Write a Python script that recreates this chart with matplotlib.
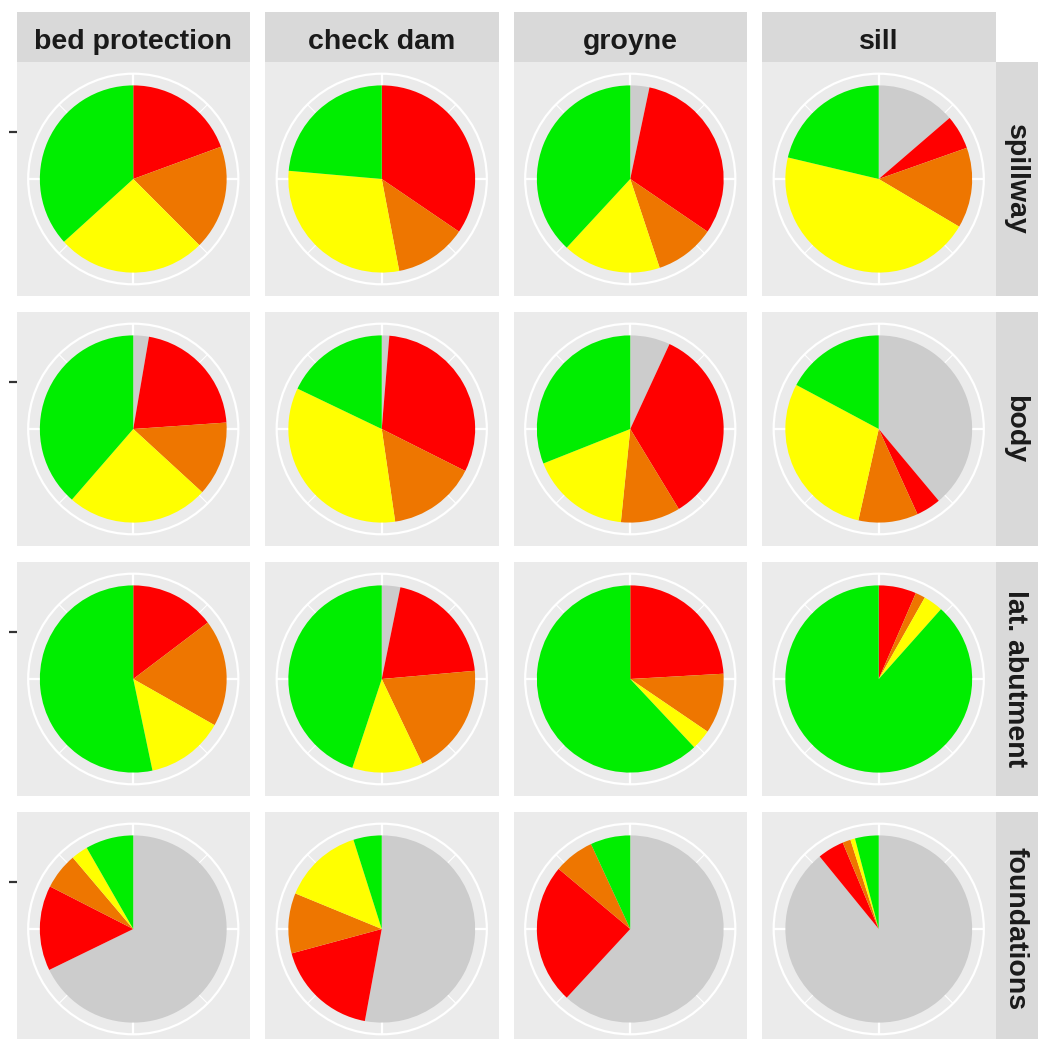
import matplotlib
matplotlib.use("Agg")
import matplotlib.pyplot as plt
import numpy as np
from matplotlib.patches import Circle

# Facet labels
structures = ["bed protection", "check dam", "groyne", "sill"]
components = ["spillway", "body", "lat. abutment", "foundations"]

# Share (%) per damage class, in stacking order:
# not assessed, severe, moderate, slight, none
class_colors = ["#CCCCCC", "#FF0000", "#EE7600", "#FFFF00", "#00EE00"]

spillway = [
    [0.0, 19.4, 18.1, 25.8, 36.7],
    [0.0, 34.5, 12.5, 29.4, 23.6],
    [3.3, 31.2, 10.4, 17.0, 38.1],
    [13.7, 5.9, 13.9, 45.2, 21.3],
]
body = [
    [2.7, 21.2, 12.9, 24.6, 38.6],
    [1.3, 31.1, 15.3, 34.4, 17.9],
    [6.9, 34.4, 10.3, 17.4, 31.0],
    [38.9, 4.3, 10.3, 29.3, 17.2],
]
lat_abutment = [
    [0.0, 14.7, 18.5, 13.5, 53.3],
    [3.2, 20.4, 19.3, 12.2, 44.9],
    [0.0, 24.1, 10.4, 3.5, 62.0],
    [0.0, 6.5, 1.7, 3.4, 88.4],
]
foundations = [
    [67.8, 14.7, 6.3, 2.9, 8.3],
    [52.9, 17.9, 10.4, 13.9, 4.9],
    [61.9, 24.2, 7.0, 0.0, 6.9],
    [89.1, 4.6, 1.4, 0.8, 4.1],
]
shares = [spillway, body, lat_abutment, foundations]

# ---- figure layout (pixel based) ----
W, H, DPI = 1038, 1039, 100
fig = plt.figure(figsize=(W / DPI, H / DPI), dpi=DPI, facecolor="white")


def box(left, top, w, h):
    return [left / W, 1 - (top + h) / H, w / W, h / H]


col_left = [16.5, 265.0, 513.5, 762.0]
panel_w = 233.5
row_top = [62.0, 312.0, 562.0, 812.0]
panel_h = 234.0
strip_size = 50.0
strip_top = 12.0
strip_right = col_left[-1] + panel_w

panel_bg = "#EBEBEB"
strip_bg = "#D9D9D9"
text_col = "#1A1A1A"
font = dict(family="Liberation Sans", weight="bold", size=20.5, color=text_col)

R_PIE = 0.4
R_RING = 0.45

for r, comp in enumerate(components):
    for c, struct in enumerate(structures):
        ax = fig.add_axes(box(col_left[c], row_top[r], panel_w, panel_h))

        # polar grid: spokes every 12.5 %, outer ring
        for k, frac in enumerate(np.arange(0, 1, 0.125)):
            ang = np.deg2rad(90 - frac * 360)
            major = k % 2 == 0
            ax.plot([0.5, 0.5 + R_RING * np.cos(ang)],
                    [0.5, 0.5 + R_RING * np.sin(ang)],
                    color="white", lw=1.6 if major else 0.8,
                    solid_capstyle="butt", zorder=1)
        ax.add_patch(Circle((0.5, 0.5), R_RING, fill=False, ec="white",
                            lw=1.6, zorder=1))

        ax.pie(shares[r][c], colors=class_colors, startangle=90,
               counterclock=False, radius=R_PIE, center=(0.5, 0.5),
               wedgeprops=dict(linewidth=0, zorder=3))

        ax.set_xlim(0, 1)
        ax.set_ylim(0, 1)
        ax.set_aspect("auto")
        ax.set_frame_on(True)
        ax.set_facecolor(panel_bg)
        for s in ax.spines.values():
            s.set_visible(False)
        ax.set_xticks([])
        if c == 0:
            ax.set_yticks([0.5 + R_PIE / 2])
            ax.set_yticklabels([""])
            ax.tick_params(axis="y", length=5.5, width=1.6, color="#333333")
        else:
            ax.set_yticks([])

# column strips
for c, struct in enumerate(structures):
    sax = fig.add_axes(box(col_left[c], strip_top, panel_w, strip_size))
    sax.set_facecolor(strip_bg)
    sax.set_xticks([])
    sax.set_yticks([])
    for s in sax.spines.values():
        s.set_visible(False)
    sax.text(0.5, 13 / strip_size, struct, ha="center", va="baseline",
             transform=sax.transAxes, **font)

# row strips
for r, comp in enumerate(components):
    sax = fig.add_axes(box(strip_right, row_top[r], strip_size, panel_h))
    sax.set_facecolor(strip_bg)
    sax.set_xticks([])
    sax.set_yticks([])
    for s in sax.spines.values():
        s.set_visible(False)
    sax.text(13 / strip_size, 0.5, comp, ha="center", va="baseline",
             rotation=-90, rotation_mode="anchor",
             transform=sax.transAxes, **font)

fig.savefig("out.png", dpi=DPI, facecolor="white")
